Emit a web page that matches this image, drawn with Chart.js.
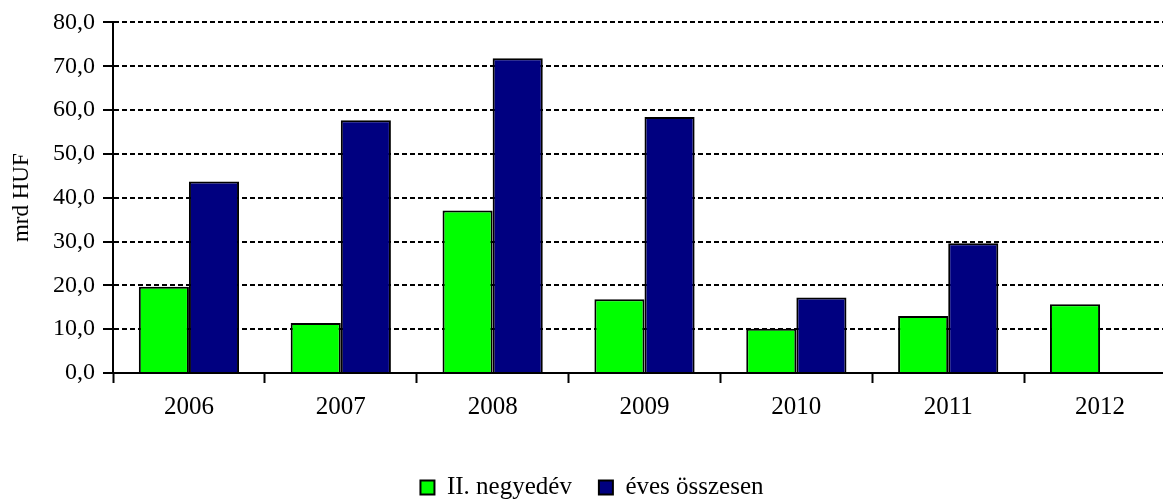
<!DOCTYPE html>
<html lang="hu">
<head>
  <meta charset="UTF-8">
  <title>mrd HUF</title>
  <script src="https://cdn.jsdelivr.net/npm/chart.js"></script>
  <style>
    html, body { margin: 0; padding: 0; background: #fff; overflow: hidden; }
    #wrap { width: 1178px; height: 499px; }
  </style>
</head>
<body>
  <div id="wrap"><canvas id="grafikon" width="1178" height="499"></canvas></div>

  <script>
    const evek = ['2006', '2007', '2008', '2009', '2010', '2011', '2012'];
    const negyedev = [19.7, 11.4, 37.1, 16.8, 10.1, 13.0, 15.7];
    const evesOsszesen = [43.7, 57.7, 71.8, 58.4, 17.2, 29.6, null];

    const betu = 'Liberation Serif, Times New Roman, serif';

    new Chart(document.getElementById('grafikon').getContext('2d'), {
      type: 'bar',
      data: {
        labels: evek,
        datasets: [
          {
            label: 'II. negyedév',
            data: negyedev,
            backgroundColor: '#00ff00',
            borderColor: '#000',
            borderWidth: 2
          },
          {
            label: 'éves összesen',
            data: evesOsszesen,
            backgroundColor: '#000080',
            borderColor: '#000',
            borderWidth: 2
          }
        ]
      },
      options: {
        responsive: false,
        animation: false,
        layout: { padding: { left: 8, right: 2, top: 7, bottom: -11 } },
        datasets: { bar: { categoryPercentage: 0.66, barPercentage: 1 } },
        plugins: {
          tooltip: { enabled: false },
          legend: {
            position: 'bottom',
            labels: {
              color: '#000',
              font: { family: betu, size: 25 },
              boxWidth: 14,
              boxHeight: 14,
              padding: 27
            }
          }
        },
        scales: {
          x: {
            grid: { offset: true, drawOnChartArea: false, tickLength: 10, tickColor: '#000', tickWidth: 2 },
            border: { color: '#000', width: 2 },
            ticks: { color: '#000', font: { family: betu, size: 25 }, padding: 9 },
            afterFit: (s) => { s.height += 17; }
          },
          y: {
            min: 0,
            max: 80,
            ticks: {
              stepSize: 10,
              color: '#000',
              font: { family: betu, size: 24 },
              padding: 8,
              callback: (v) => v.toFixed(1).replace('.', ',')
            },
            grid: {
              color: '#000',
              lineWidth: 2,
              tickLength: 10,
              tickColor: '#000',
              tickWidth: 2,
              tickBorderDash: []
            },
            border: { color: '#000', width: 2, dash: [5, 3] },
            title: {
              display: true,
              text: 'mrd HUF',
              color: '#000',
              font: { family: betu, size: 23 },
              padding: 0
            },
            afterFit: (s) => { s.width = 105; }
          }
        }
      }
    });
  </script>
</body>
</html>
